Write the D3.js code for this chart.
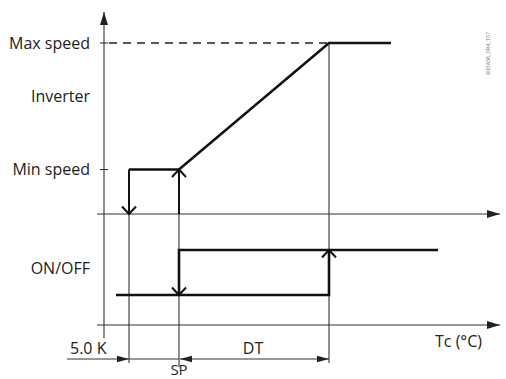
<!DOCTYPE html>
<html>
<head>
<meta charset="utf-8">
<script src="https://cdn.jsdelivr.net/npm/d3@7"></script>
<style>
  html, body { margin: 0; padding: 0; background: #fff; }
  svg { display: block; }
  text { font-family: "Open Sans", sans-serif; fill: #222; }
</style>
</head>
<body>
<div id="chart"></div>
<script>
// temperatures in K relative to the set point (SP = 0)
const setPoint = 0;
const neutralZone = -5;      // 5.0 K below SP
const diffTemp = 15;         // DT
const xAxisStart = -8.2;
const xAxisEnd = 32.1;

// inverter speed, % of max
const speedLevels = [
  { label: 'Max speed', value: 100 },
  { label: 'Min speed', value: 26 }
];
// inverter curve: drops to 0 at SP-5K, restarts at SP with min speed, ramps to max at SP+DT
const inverterLine = [
  { t: -5, s: 26 }, { t: 0, s: 26 }, { t: 15, s: 100 }, { t: 21.2, s: 100 }
];
// ON/OFF state curve
const onOffLow = [{ t: -6.3, s: 0 }, { t: 15, s: 0 }, { t: 15, s: 1 }];
const onOffHigh = [{ t: 0, s: 0 }, { t: 0, s: 1 }, { t: 25.9, s: 1 }];

const width = 506, height = 379;

const svg = d3.select('#chart').append('svg')
  .attr('width', width)
  .attr('height', height);

const x = d3.scaleLinear().domain([-7.5, 32.1]).range([104, 500]);
const ySpeed = d3.scaleLinear().domain([0, 100]).range([214, 43]);
const yState = d3.scaleLinear().domain([0, 1]).range([295, 250]);
const yBottom = 325;
const yDim = 359;

const defs = svg.append('defs');
defs.append('marker')
  .attr('id', 'axisHead')
  .attr('viewBox', '0 -5 13 10')
  .attr('refX', 13).attr('refY', 0)
  .attr('markerWidth', 13).attr('markerHeight', 10)
  .attr('markerUnits', 'userSpaceOnUse')
  .attr('orient', 'auto')
  .append('path').attr('d', 'M0,-4L13,0L0,4Z').attr('fill', '#222');
defs.append('marker')
  .attr('id', 'dimHead')
  .attr('viewBox', '0 -4 12 8')
  .attr('refX', 12).attr('refY', 0)
  .attr('markerWidth', 12).attr('markerHeight', 8)
  .attr('markerUnits', 'userSpaceOnUse')
  .attr('orient', 'auto-start-reverse')
  .append('path').attr('d', 'M0,-3.2L12,0L0,3.2Z').attr('fill', '#222');

const thin = g => g.attr('stroke', '#333').attr('stroke-width', 1.1).attr('fill', 'none');
const thick = g => g.attr('stroke', '#111').attr('stroke-width', 2.6).attr('fill', 'none');

// vertical axis
svg.append('line')
  .attr('x1', x(-7.5)).attr('x2', x(-7.5))
  .attr('y1', yDim - 21).attr('y2', 12)
  .call(thin).attr('marker-end', 'url(#axisHead)');

// horizontal axes
[ySpeed(0), yBottom].forEach(yy => {
  svg.append('line')
    .attr('x1', x(xAxisStart)).attr('x2', x(xAxisEnd))
    .attr('y1', yy).attr('y2', yy)
    .call(thin).attr('marker-end', 'url(#axisHead)');
});

// guide verticals
const guides = [
  { t: neutralZone, top: ySpeed(26), bottom: 363 },
  { t: setPoint, top: ySpeed(26), bottom: 367 },
  { t: diffTemp, top: ySpeed(100), bottom: 363 }
];
guides.forEach(gd => {
  svg.append('line')
    .attr('x1', x(gd.t)).attr('x2', x(gd.t))
    .attr('y1', gd.top).attr('y2', gd.bottom)
    .call(thin);
});

// level ticks and labels
speedLevels.forEach(d => {
  svg.append('line')
    .attr('x1', x(-7.5) - 4).attr('x2', x(-7.5) + 4)
    .attr('y1', ySpeed(d.value)).attr('y2', ySpeed(d.value))
    .call(thin);
  svg.append('text')
    .attr('x', 90).attr('y', ySpeed(d.value) + 5.5)
    .attr('text-anchor', 'end')
    .attr('font-size', 16)
    .text(d.label);
});

// dashed max speed line
svg.append('line')
  .attr('x1', x(-7.5) + 5).attr('x2', x(diffTemp))
  .attr('y1', ySpeed(100)).attr('y2', ySpeed(100))
  .attr('stroke', '#222').attr('stroke-width', 1.3)
  .attr('stroke-dasharray', '8,6');

// inverter curve
const speedLine = d3.line().x(d => x(d.t)).y(d => ySpeed(d.s));
svg.append('path').attr('d', speedLine(inverterLine)).call(thick);

// inverter switching verticals
svg.append('line')
  .attr('x1', x(neutralZone)).attr('x2', x(neutralZone))
  .attr('y1', ySpeed(26)).attr('y2', ySpeed(0))
  .attr('stroke', '#111').attr('stroke-width', 2);
svg.append('line')
  .attr('x1', x(setPoint)).attr('x2', x(setPoint))
  .attr('y1', ySpeed(0)).attr('y2', ySpeed(26))
  .attr('stroke', '#111').attr('stroke-width', 2);

// ON/OFF curve
const stateLine = d3.line().x(d => x(d.t)).y(d => yState(d.s));
svg.append('path').attr('d', stateLine(onOffLow)).call(thick);
svg.append('path').attr('d', stateLine(onOffHigh)).call(thick);

// open chevron arrows: direction 1 = up, -1 = down
function chevron(px, py, dir) {
  const h = 7.5, w = 7;
  svg.append('path')
    .attr('d', `M${px - w},${py + dir * h}L${px},${py}L${px + w},${py + dir * h}`)
    .attr('stroke', '#111').attr('stroke-width', 2).attr('fill', 'none');
}
chevron(x(neutralZone), ySpeed(0), -1);
chevron(x(setPoint), ySpeed(26), 1);
chevron(x(setPoint), yState(0), -1);
chevron(x(diffTemp), yState(1), 1);

// dimension lines
svg.append('line')
  .attr('x1', 67).attr('x2', x(neutralZone))
  .attr('y1', yDim).attr('y2', yDim)
  .call(thin).attr('marker-end', 'url(#dimHead)');
svg.append('line')
  .attr('x1', x(neutralZone)).attr('x2', x(setPoint))
  .attr('y1', yDim).attr('y2', yDim)
  .call(thin);
svg.append('line')
  .attr('x1', x(setPoint) + 1).attr('x2', x(diffTemp))
  .attr('y1', yDim).attr('y2', yDim)
  .call(thin)
  .attr('marker-start', 'url(#dimHead)')
  .attr('marker-end', 'url(#dimHead)');

// labels
const labels = [
  { text: 'Inverter', x: 90, y: 102, anchor: 'end' },
  { text: 'ON/OFF', x: 90, y: 274, anchor: 'end' },
  { text: '5.0 K', x: 70, y: 354, anchor: 'start' },
  { text: 'SP', x: x(setPoint), y: 375, anchor: 'middle' },
  { text: 'DT', x: (x(setPoint) + x(diffTemp)) / 2 - 1, y: 354, anchor: 'middle' },
  { text: 'Tc (°C)', x: 435, y: 347, anchor: 'start' }
];
svg.selectAll('text.lbl')
  .data(labels)
  .enter().append('text')
  .attr('class', 'lbl')
  .attr('x', d => d.x).attr('y', d => d.y)
  .attr('text-anchor', d => d.anchor)
  .attr('font-size', d => d.text === 'SP' ? 15 : 16)
  .text(d => d.text);

// drawing code
svg.append('text')
  .attr('transform', 'translate(490,75) rotate(-90)')
  .attr('font-size', 5.5)
  .style('fill', '#777')
  .text('800A56_0R4_107');
</script>
</body>
</html>
